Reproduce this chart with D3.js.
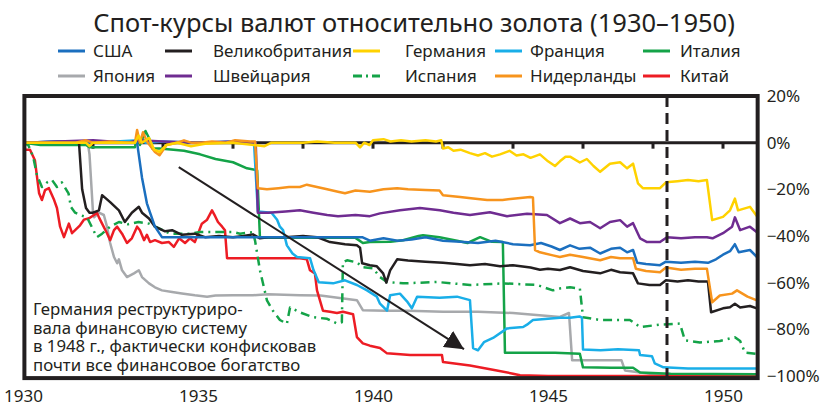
<!DOCTYPE html>
<html lang="ru">
<head>
<meta charset="UTF-8">
<title>Спот-курсы валют относительно золота</title>
<script src="https://d3js.org/d3.v7.min.js"></script>
<style>
  body { margin: 0; background: #fff; }
  text { font-family: "Noto Sans", "DejaVu Sans", sans-serif; fill: #231f20; }
</style>
</head>
<body>
<svg width="827" height="410"></svg>
<script>

// --- data: [year, % change vs gold] ---
const usa = [[1930,0],[1931,0.5],[1932,0],[1933.2,0],[1933.26,0],[1933.4,-15],[1933.54,-26],[1933.63,-30],[1933.77,-36],[1933.97,-40.5],
  [1935,-40.5],[1937,-40.5],[1939.5,-40.5],[1939.69,-40.5],[1939.91,-42],[1940.3,-41],[1940.7,-42],[1941.1,-41.5],[1941.5,-40.5],
  [1942,-42],[1942.5,-42.5],[1943,-43],[1943.5,-42],[1944,-43.5],[1944.49,-44],[1944.8,-43],[1945.1,-44.5],[1945.34,-46],[1945.63,-44],
  [1945.9,-45.5],[1946.2,-45],[1946.49,-47.5],[1946.8,-45.5],[1947.06,-45],[1947.26,-47],[1947.43,-46],[1947.55,-51.5],[1947.8,-52],
  [1948.2,-52.5],[1948.37,-51],[1948.8,-51.5],[1949.2,-51],[1949.57,-51.5],[1949.8,-50],[1950,-48],[1950.2,-46.5],[1950.34,-43.5],
  [1950.45,-47],[1950.77,-46],[1950.97,-49]];

const uk = [[1930,0],[1931.6,0],[1931.69,-20],[1931.8,-28],[1931.9,-30],[1932.0,-30],[1932.17,-29],[1932.26,-22.5],[1932.49,-25.5],
  [1932.74,-29],[1932.91,-34],[1933.11,-30],[1933.31,-27.5],[1933.4,-30],[1933.6,-32.5],[1933.77,-36],[1934.06,-38],[1934.26,-37.5],
  [1934.54,-39.5],[1934.91,-39],[1935.2,-40.5],[1935.6,-40],[1936.0,-40.5],[1936.3,-40],[1936.57,-39.3],[1936.77,-41],[1937.0,-40.5],
  [1937.5,-40.5],[1938.0,-40],[1938.4,-40.5],[1938.77,-42.6],[1939.2,-43.5],[1939.54,-44],[1939.63,-45],[1939.69,-51.7],[1939.91,-52.5],
  [1940.11,-53],[1940.29,-56],[1940.38,-60],[1940.49,-54.7],[1940.69,-50],[1941.0,-50.5],[1941.5,-51],[1942.0,-51.5],[1942.4,-52],
  [1942.77,-52.5],[1943.2,-52],[1943.63,-53],[1944.0,-52.5],[1944.5,-53.5],[1944.77,-54.5],[1945.0,-54],[1945.34,-54.6],[1945.63,-53.4],
  [1946.0,-55],[1946.49,-56],[1946.8,-54.5],[1947.06,-55.5],[1947.43,-56],[1947.57,-60.3],[1947.9,-61],[1948.2,-61],[1948.37,-59],
  [1948.7,-59.5],[1949.0,-59],[1949.3,-59.5],[1949.57,-59.5],[1949.66,-72.7],[1950.0,-71],[1950.2,-70.5],[1950.34,-69],[1950.49,-70.6],
  [1950.77,-70],[1950.97,-71]];

const germany = [[1930,0],[1931.8,0],[1931.9,-1.5],[1932.0,0],[1933.2,0],[1933.3,3],[1933.4,0],[1933.6,2],[1933.75,-3],[1933.9,-4],
  [1934.1,-1],[1934.4,0],[1934.8,-1.5],[1935.2,-0.5],[1936,0],[1936.9,-1.5],[1937.1,0],[1938,0],[1938.4,0.5],[1938.9,0],[1939.5,0],
  [1939.63,-2],[1939.75,0],[1939.9,-1],[1940.0,1],[1940.3,1.5],[1940.5,0.5],[1940.8,1],[1941.1,0.5],[1941.5,1],[1941.8,0.5],[1941.95,1],
  [1942.0,-2.5],[1942.15,-2],[1942.3,-3.5],[1942.5,-3],[1942.77,-4.5],[1943.0,-5.5],[1943.2,-4.5],[1943.4,-6],[1943.63,-5],[1943.9,-3.5],
  [1944.1,-5.5],[1944.3,-5],[1944.5,-6.5],[1944.77,-5],[1945.0,-8],[1945.2,-10],[1945.34,-8],[1945.5,-6],[1945.63,-6],[1945.91,-8.5],
  [1946.11,-7],[1946.3,-10],[1946.49,-12.5],[1946.77,-9],[1947.06,-8.4],[1947.26,-11],[1947.43,-9],[1947.57,-17.4],[1947.71,-19.5],
  [1948.2,-19.5],[1948.37,-17],[1948.7,-16.5],[1949.0,-16],[1949.3,-16.5],[1949.54,-16],[1949.69,-33.2],[1950.0,-31.8],[1950.2,-29],
  [1950.34,-24],[1950.43,-29],[1950.77,-27.5],[1950.97,-31.5]];

const france = [[1930,0],[1931,0.5],[1932,0],[1933.3,1],[1933.5,0],[1934,0.5],[1935,0],[1936,0.5],[1936.6,0],[1936.71,-29.5],[1937.1,-30],
  [1937.26,-33],[1937.34,-36],[1937.43,-37.5],[1937.54,-44],[1937.7,-47.5],[1937.83,-49],[1938.2,-49.5],[1938.3,-54.6],[1938.45,-59.8],
  [1938.86,-60.3],[1939.2,-59],[1939.54,-61],[1939.83,-63.3],[1940.11,-66],[1940.2,-69],[1940.4,-72],[1940.49,-65.4],[1940.77,-64.7],
  [1940.97,-68],[1941.11,-71],[1941.26,-66],[1941.9,-66.5],[1942.4,-66],[1942.77,-67.5],[1942.86,-88],[1943.0,-89],[1943.17,-85.5],
  [1943.43,-83.7],[1943.83,-79.6],[1944.29,-79],[1944.4,-78],[1944.57,-76],[1945.0,-75.5],[1945.34,-75],[1945.63,-75],[1945.9,-74.5],
  [1945.97,-75],[1946.0,-88.6],[1946.5,-89],[1947.0,-88.5],[1947.6,-89],[1947.63,-91],[1947.97,-91.5],[1948.05,-94.6],[1948.3,-96.3],
  [1949.0,-96.8],[1950.0,-96.8],[1950.97,-96.8]];

const italy = [[1930,0],[1930.5,-1],[1931.0,-1],[1931.8,-1],[1931.9,-2],[1932.5,-2],[1933.2,-2],[1933.26,3],[1933.34,-1],[1933.5,5],
  [1933.6,2],[1933.7,-2.5],[1933.9,-2.5],[1934.3,-3],[1934.6,-3.5],[1935.06,-5],[1935.5,-7],[1936.0,-8.4],[1936.4,-11],[1936.69,-11.8],
  [1936.77,-40.8],[1937.5,-40.8],[1938.5,-40.8],[1939.5,-40.8],[1939.71,-43],[1939.91,-42.6],[1940.5,-42.5],[1940.86,-41.8],[1941.3,-40],
  [1941.43,-39.7],[1941.9,-40.5],[1942.4,-42],[1942.7,-43],[1943.06,-40.5],[1943.4,-42.5],[1943.71,-42.6],[1943.77,-90],[1944.5,-90],
  [1945.2,-90],[1945.91,-90.5],[1946.0,-96.3],[1946.8,-96.5],[1947.43,-96.5],[1947.63,-98.5],[1948.5,-99],[1950.97,-99.3]];

const japan = [[1930,0],[1931.85,0],[1931.9,-5],[1932.0,-30],[1932.03,-32],[1932.17,-30],[1932.31,-31],[1932.4,-36],[1932.49,-43],
  [1932.6,-49],[1932.69,-51.7],[1932.74,-50],[1932.83,-54.7],[1932.97,-57.6],[1933.17,-56],[1933.31,-54.7],[1933.4,-57.6],[1933.6,-60.3],
  [1933.77,-62],[1933.97,-63.3],[1934.26,-64],[1934.54,-64.6],[1934.91,-65.4],[1935.26,-66],[1935.5,-65.5],[1936.0,-65.4],[1936.57,-65.4],
  [1937.0,-65],[1937.91,-65.4],[1938.5,-65.5],[1939.54,-67.5],[1939.71,-71.8],[1940.34,-72],[1941.0,-72],[1942.0,-72.5],[1943,-72.5],
  [1944,-73],[1945.34,-74.7],[1945.6,-73],[1945.69,-93.3],[1946.49,-93.3],[1947.1,-93.3],[1947.2,-97.6],[1947.91,-99],[1948.5,-99.7]];

const swiss = [[1930,0],[1931,0.5],[1932,1],[1932.5,0.5],[1933,0],[1933.3,1],[1934,0.5],[1935,0],[1936,0.5],[1936.65,0],[1936.71,-30],
  [1937,-30],[1937.5,-29.5],[1937.91,-29],[1938.3,-30],[1938.69,-31],[1939.0,-31.5],[1939.5,-31],[1939.91,-31.5],[1940.2,-30.3],
  [1940.77,-29],[1941.34,-28],[1941.91,-29],[1942.3,-30],[1942.77,-31],[1943.34,-29.8],[1943.83,-31.5],[1944.4,-30.5],[1944.97,-31],
  [1945.34,-34.5],[1945.63,-32.5],[1945.91,-34.5],[1946.2,-34],[1946.49,-36.7],[1946.77,-34],[1947.06,-33.2],[1947.26,-36],
  [1947.43,-34.5],[1947.63,-41],[1947.83,-42.6],[1948.2,-42.6],[1948.4,-40.5],[1948.8,-41],[1949.2,-40.5],[1949.54,-40.5],[1949.7,-41],
  [1950.0,-38.8],[1950.26,-36],[1950.34,-32],[1950.49,-37.5],[1950.77,-36],[1950.97,-38.4]];

const spain = [[1930,0],[1930.15,-1],[1930.29,-6],[1930.4,-14],[1930.54,-19],[1930.69,-17],[1930.83,-16],[1930.97,-19],[1931.11,-17],
  [1931.3,-21.7],[1931.37,-27.6],[1931.49,-30],[1931.63,-31],[1931.83,-32],[1932.11,-40.5],[1932.26,-39],[1932.49,-36],[1932.74,-34],
  [1933.0,-35],[1933.3,-34],[1933.6,-34.7],[1934.2,-39],[1934.77,-39],[1935.06,-38.3],[1936.0,-38.3],[1936.2,-39],[1936.57,-38.3],
  [1936.63,-42],[1936.77,-54.7],[1936.97,-67.6],[1937.14,-72],[1937.34,-76],[1937.54,-77.6],[1937.63,-70.6],[1937.91,-72.7],
  [1938.29,-74.8],[1938.69,-75.5],[1938.97,-77.5],[1939.11,-77],[1939.14,-51.3],[1939.26,-50.4],[1939.54,-51.3],[1939.71,-53.4],
  [1940.0,-53.8],[1940.2,-57.6],[1940.4,-59.7],[1940.86,-60.3],[1941.83,-59.7],[1942.77,-61],[1943.71,-60.3],[1944.69,-61],
  [1945.14,-63.3],[1945.34,-62.5],[1945.63,-62],[1945.91,-62.5],[1946.0,-74.8],[1946.49,-76],[1947.34,-76],[1947.63,-79],
  [1948.2,-78],[1948.77,-77.5],[1948.91,-84.7],[1949.34,-85.6],[1949.91,-85],[1950.34,-83.4],[1950.49,-85],[1950.63,-90],[1950.97,-90.5]];

const netherlands = [[1930,0],[1931.5,0],[1931.8,1],[1932,0],[1932.5,0.5],[1933.0,0],[1933.2,0],[1933.26,5.4],[1933.34,0],[1933.43,4.5],
  [1933.54,0.5],[1933.77,-4],[1933.9,-5.4],[1934.1,-1],[1934.4,0],[1934.6,1],[1934.8,0],[1935.1,0],[1935.4,0.5],[1935.8,0],[1936.06,1],
  [1936.5,0.5],[1936.63,0.5],[1936.71,-19.5],[1936.97,-20],[1937.3,-19.5],[1937.6,-19],[1937.91,-19],[1938.11,-18],[1938.4,-19],
  [1938.69,-20],[1939.0,-21],[1939.2,-21.7],[1939.5,-20.5],[1939.91,-21],[1940.3,-20],[1940.69,-19.5],[1941.0,-20],[1941.5,-20.3],
  [1941.9,-20.5],[1942.0,-22.5],[1942.49,-23.3],[1942.8,-23.8],[1943.26,-24.6],[1943.7,-24.6],[1944.0,-24],[1944.49,-23.3],
  [1944.57,-23.5],[1944.63,-46],[1944.77,-47],[1945.14,-48.3],[1945.34,-49],[1945.63,-48],[1946.0,-49],[1946.49,-50.4],[1946.8,-49],
  [1947.06,-49.5],[1947.43,-49.5],[1947.51,-54],[1947.8,-55],[1948.2,-55.5],[1948.37,-53.5],[1948.8,-54.5],[1949.2,-54],[1949.54,-54],
  [1949.69,-68.4],[1949.91,-65.5],[1950.26,-64.7],[1950.4,-63.3],[1950.7,-66],[1950.97,-67.6]];

const china = [[1930,0],[1930.05,-3],[1930.2,-3],[1930.34,-7.5],[1930.46,-21.7],[1930.54,-24.6],[1930.63,-20.3],[1930.74,-19.5],
  [1930.89,-24.6],[1930.97,-28],[1931.06,-36],[1931.17,-40.5],[1931.31,-34.7],[1931.4,-38.8],[1931.49,-37.5],[1931.63,-35.4],
  [1931.74,-33],[1931.89,-32.4],[1932.03,-31],[1932.11,-30],[1932.17,-32],[1932.26,-34.7],[1932.4,-38.8],[1932.49,-41.8],[1932.6,-37.5],
  [1932.69,-36],[1932.83,-39],[1932.97,-43],[1933.11,-41],[1933.26,-36],[1933.34,-37.5],[1933.46,-41.8],[1933.54,-39.5],[1933.63,-42.6],
  [1933.77,-41.8],[1933.97,-43],[1934.17,-42.6],[1934.31,-44.7],[1934.46,-41],[1934.63,-43],[1934.77,-41],[1934.91,-42.6],[1935.11,-34.7],
  [1935.26,-33],[1935.4,-29],[1935.49,-31.5],[1935.57,-34],[1935.69,-36],[1935.77,-37.5],[1935.83,-49.5],[1936.5,-49.5],[1937.0,-49.5],
  [1937.5,-49.5],[1937.91,-49.5],[1938.11,-50],[1938.2,-54.7],[1938.34,-56],[1938.4,-63.3],[1938.57,-72],[1938.77,-72.5],[1938.97,-73],
  [1939.14,-72.5],[1939.43,-73.5],[1939.54,-83.3],[1939.71,-86],[1939.91,-87],[1940.2,-88],[1940.4,-90.3],[1941.06,-91],[1941.97,-91],
  [1942.0,-94],[1942.77,-95.5],[1943.5,-97.5],[1944.0,-99],[1944.2,-99.7],[1945,-100],[1950.97,-100]];

const countries = ["США", "Великобритания", "Германия", "Франция", "Италия",
                   "Япония", "Швейцария", "Испания", "Нидерланды", "Китай"];
const seriesData = [usa, uk, germany, france, italy, japan, swiss, spain, netherlands, china];
const colors = ["#1b6fbf", "#231f20", "#ffd200", "#19aee8", "#14a348",
                "#a7a9ac", "#6f2c91", "#14a348", "#f7941d", "#ed1c24"];
const drawOrder = [5, 9, 7, 4, 3, 1, 0, 6, 8, 2];

const yTicks = [20, 0, -20, -40, -60, -80, -100];
const xLabels = [1930, 1935, 1940, 1945, 1950];
const zeroTicks = [1932, 1934, 1936, 1938, 1940, 1942, 1944, 1946, 1948, 1950];
const reformYear = 1948.4;
const note = ["Германия реструктуриро-", "вала финансовую систему",
              "в 1948 г., фактически конфисковав", "почти все финансовое богатство"];

const svg = d3.select("svg");
const x = d3.scaleLinear().domain([1930, 1950]).range([23, 723]);
const y = d3.scaleLinear().domain([-100, 20]).range([376, 96]);

const pL = x(1930.04), pR = x(1950.99), pT = y(20), pB = y(-100.9);

svg.append("defs").append("clipPath").attr("id", "plot")
  .append("rect").attr("x", pL).attr("y", pT).attr("width", pR - pL).attr("height", pB - pT);

// title
svg.append("text").attr("x", 414).attr("y", 32).attr("text-anchor", "middle")
  .style("font-size", "25.5px").text("Спот-курсы валют относительно золота (1930–1950)");

// legend
const legLineX = [58, 165, 353, 495, 643];
const legTextX = [93, 213, 405, 530, 680];
const legend = svg.append("g");
countries.forEach((c, i) => {
  const col = i % 5, row = Math.floor(i / 5);
  const ly = 51 + row * 25;
  legend.append("line").attr("x1", legLineX[col]).attr("x2", legLineX[col] + 27).attr("y1", ly).attr("y2", ly)
    .attr("stroke", colors[i]).attr("stroke-width", 3)
    .attr("stroke-dasharray", c === "Испания" ? "9,4,2,4" : null);
  legend.append("text").attr("x", legTextX[col]).attr("y", ly)
    .attr("dy", "0.35em").style("font-size", "17px").text(c);
});

// zero line with ticks
svg.append("line").attr("x1", pL).attr("x2", pR).attr("y1", y(0)).attr("y2", y(0))
  .attr("stroke", "#231f20").attr("stroke-width", 3);
svg.append("g").selectAll("line").data(zeroTicks).join("line")
  .attr("x1", d => x(d)).attr("x2", d => x(d)).attr("y1", y(0)).attr("y2", y(0) + 6)
  .attr("stroke", "#231f20").attr("stroke-width", 3);

// series
const line = d3.line().x(d => x(d[0])).y(d => y(d[1]));
const lines = svg.append("g").attr("clip-path", "url(#plot)");
drawOrder.forEach(i => {
  lines.append("path").datum(seriesData[i]).attr("d", line)
    .attr("fill", "none").attr("stroke", colors[i]).attr("stroke-width", 2.5)
    .attr("stroke-linejoin", "round")
    .attr("stroke-dasharray", countries[i] === "Испания" ? "9,5,2,5" : null);
});

// 1948 dashed marker
svg.append("line").attr("x1", x(reformYear)).attr("x2", x(reformYear)).attr("y1", pT).attr("y2", pB)
  .attr("stroke", "#231f20").attr("stroke-width", 3).attr("stroke-dasharray", "11,6");

// arrow
svg.select("defs").append("marker").attr("id", "head").attr("viewBox", "0 0 10 10")
  .attr("refX", 10).attr("refY", 5).attr("markerWidth", 19).attr("markerHeight", 19)
  .attr("markerUnits", "userSpaceOnUse").attr("orient", "auto")
  .append("path").attr("d", "M0,0L10,5L0,10Z").attr("fill", "#231f20");
svg.append("line").attr("x1", x(1934.45)).attr("y1", y(-10.5)).attr("x2", x(1942.6)).attr("y2", y(-88.5))
  .attr("stroke", "#231f20").attr("stroke-width", 2).attr("marker-end", "url(#head)");

// note
svg.append("g").selectAll("text").data(note).join("text")
  .attr("x", 33).attr("y", (d, i) => 315 + i * 18.5)
  .style("font-size", "16.8px").text(d => d);

// frame
svg.append("rect").attr("x", pL).attr("y", pT).attr("width", pR - pL).attr("height", pB - pT)
  .attr("fill", "none").attr("stroke", "#231f20").attr("stroke-width", 4);

// axes
const yAxis = svg.append("g").attr("transform", `translate(${pR},0)`)
  .call(d3.axisRight(y).tickValues(yTicks).tickSize(0).tickPadding(9)
    .tickFormat(d => (d < 0 ? "−" + Math.abs(d) : d) + "%"));
yAxis.select(".domain").remove();
yAxis.selectAll("text").style("font-size", "17px").attr("fill", "#231f20")
  .style("font-family", "'Noto Sans', sans-serif");

const xAxis = svg.append("g").attr("transform", `translate(0,${pB})`)
  .call(d3.axisBottom(x).tickValues(xLabels).tickSize(0).tickPadding(12).tickFormat(d3.format("d")));
xAxis.select(".domain").remove();
xAxis.selectAll("text").style("font-size", "17px").attr("fill", "#231f20")
  .style("font-family", "'Noto Sans', sans-serif");

</script>
</body>
</html>
